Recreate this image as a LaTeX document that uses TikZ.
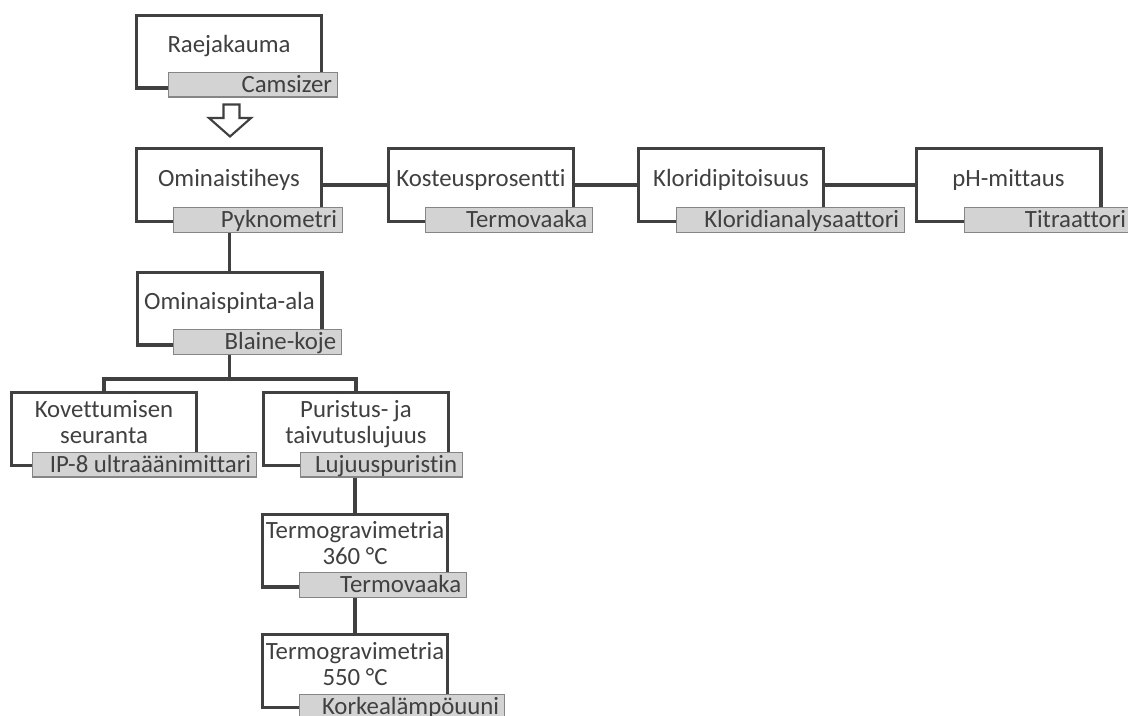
\documentclass[tikz,border=0pt]{standalone}
\usepackage{fontspec}
\setmainfont{Carlito}[Ligatures=NoCommon]
\definecolor{dk}{HTML}{404040}
\definecolor{lf}{HTML}{D3D3D3}
\definecolor{lb}{HTML}{858585}
\newcommand{\rlab}[2]{\makebox[#1][r]{#2}}
\begin{document}
\begin{tikzpicture}[x=0.75pt,y=-0.75pt,
  box/.style={draw=dk,line width=2.3pt,fill=white,minimum width=138.7pt,minimum height=54.7pt,inner sep=0pt},
  ttl/.style={font=\fontsize{18.6}{19.5}\selectfont,text=dk,align=center,inner sep=0pt},
  lab/.style={draw=lb,fill=lf,line width=0.9pt,minimum height=18.6pt,inner ysep=0pt,inner xsep=4pt,
              text height=11.9pt,text depth=0pt,font=\fontsize{18.6}{19.5}\selectfont,text=dk},
  con/.style={draw=dk,line width=2.4pt},
  hollow/.style={draw=dk,line width=1.6pt,fill=white,line join=miter}]
\useasboundingbox (0,0) rectangle (1128,715);
\clip (0,0) rectangle (1128,715);

% boxes
\node[box] (b1) at (229,51.5) {};
\node[box] (b2) at (229,185) {};
\node[box] (b3) at (481,185) {};
\node[box] (b4) at (731,185) {};
\node[box] (b5) at (1008.5,185) {};
\node[box] (b6) at (229.5,308.5) {};
\node[box] (b7) at (104,429) {};
\node[box] (b8) at (356,429) {};
\node[box] (b9) at (355,550.5) {};
\node[box] (b10) at (355,671) {};

% horizontal connectors
\coordinate (j) at (229.5,379);
\draw[con] (b2.east) -- (b3.west);
\draw[con] (b3.east) -- (b4.west);
\draw[con] (b4.east) -- (b5.west);

% titles
\node[ttl,anchor=base] (t1) at ([yshift=-1pt]b1.center) {Raejakauma};
\node[ttl,anchor=base] (t2) at ([yshift=-1pt]b2.center) {Ominaistiheys};
\node[ttl,anchor=base] (t3) at ([yshift=-1pt]b3.center) {Kosteusprosentti};
\node[ttl,anchor=base] (t4) at ([yshift=-1pt]b4.center) {Kloridipitoisuus};
\node[ttl,anchor=base] (t5) at ([yshift=-1pt]b5.center) {pH-mittaus};
\node[ttl,anchor=base] (t6) at ([yshift=-1pt]b6.center) {Ominaispinta-ala};
\node[ttl,anchor=north] (t7) at ([yshift=22pt]b7.center) {Kovettumisen\\seuranta};
\node[ttl,anchor=north] (t8) at ([yshift=22pt]b8.center) {Puristus- ja\\taivutuslujuus};
\node[ttl,anchor=north] (t9) at ([yshift=22pt]b9.center) {Termogravimetria\\360 °C};
\node[ttl,anchor=north] (t10) at ([yshift=22pt]b10.center) {Termogravimetria\\550 °C};

% instrument labels
\node[lab] (l1) at (253,84.5) {\rlab{118.7pt}{Camsizer}};
\node[lab] (l2) at (258,220) {\rlab{118.7pt}{Pyknometri}};
\node[lab] (l3) at (509,220) {\rlab{117.2pt}{Termovaaka}};
\node[lab] (l4) at (790.5,220) {\rlab{163pt}{Kloridianalysaattori}};
\node[lab] (l5) at (1048,220) {\rlab{117.2pt}{Titraattori}};
\node[lab] (l6) at (257.5,342) {\rlab{118pt}{Blaine-koje}};
\node[lab] (l7) at (144.5,464.5) {\rlab{160pt}{IP-8 ultraäänimittari}};
\node[lab] (l8) at (381.5,464.5) {\rlab{113.5pt}{Lujuuspuristin}};
\node[lab] (l9) at (383,585) {\rlab{117.2pt}{Termovaaka}};
\node[lab] (l10) at (402,707) {\rlab{145.7pt}{Korkealämpöuuni}};

% vertical connectors
\draw[con] (b6.north |- l2.south) -- (b6.north);
\draw[con] (b6.center |- l6.south) -- (j);
\draw[con] (b7.north) -- (b7.north |- j) -- (b8.north |- j) -- (b8.north);
\draw[con] (b9.north |- l8.south) -- (b9.north);
\draw[con] (b10.north |- l9.south) -- (b10.north);

% hollow arrow
\draw[hollow] (223.5,104.5) -- (239.5,104.5) -- (239.5,118) -- (251,118) -- (230,136.5) -- (209,118) -- (223.5,118) -- cycle;
\end{tikzpicture}
\end{document}
